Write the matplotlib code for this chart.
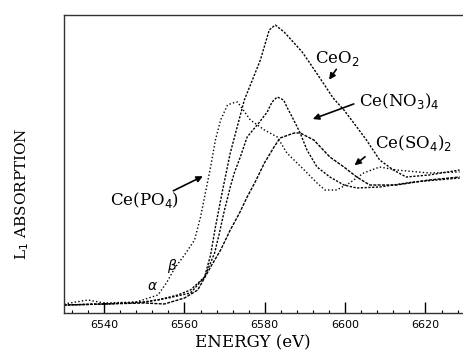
import matplotlib
matplotlib.use("Agg")
import matplotlib.pyplot as plt
from matplotlib.ticker import MultipleLocator

# ---- data (energy in eV, absorption in arbitrary units) ----
e_po4 = [6530, 6536, 6540, 6548, 6553.4, 6555.5, 6557.6, 6560.0, 6562.5, 6564.0, 6565.2,
         6566.5, 6567.7, 6569.0, 6570.7, 6572.0, 6573.2, 6576.4, 6579.9, 6583.1, 6585.5,
         6589.8, 6593.0, 6595.0, 6597.9, 6601.1, 6604.6, 6608.6, 6612.8, 6620.9, 6628.5]
a_po4 = [0.09, 0.13, 0.10, 0.11, 0.18, 0.30, 0.45, 0.58, 0.73, 0.96, 1.20,
         1.46, 1.73, 1.93, 2.08, 2.10, 2.11, 1.93, 1.83, 1.76, 1.60,
         1.43, 1.30, 1.23, 1.23, 1.30, 1.40, 1.46, 1.43, 1.40, 1.41]

e_ceo2 = [6530, 6540, 6550, 6556, 6561.5, 6565.0, 6566.5, 6567.7, 6569.5, 6571.4, 6574.9,
          6578.9, 6581.1, 6582.6, 6584.8, 6587.3, 6589.3, 6591.2, 6593.2, 6595.2, 6597.0,
          6599.7, 6602.9, 6605.3, 6608.6, 6612.0, 6615.2, 6620.9, 6628.5]
a_ceo2 = [0.08, 0.09, 0.11, 0.15, 0.20, 0.36, 0.58, 0.86, 1.23, 1.60, 2.13,
          2.53, 2.83, 2.88, 2.81, 2.70, 2.61, 2.50, 2.38, 2.26, 2.15,
          2.03, 1.86, 1.73, 1.53, 1.43, 1.36, 1.38, 1.43]

e_no3 = [6530, 6540, 6550, 6553.4, 6558.3, 6561.5, 6565.0, 6567.5, 6568.7, 6569.9, 6571.4,
         6572.4, 6573.9, 6575.6, 6578.5, 6580.6, 6581.8, 6583.1, 6584.7, 6585.5, 6587.2,
         6588.8, 6590.5, 6593.0, 6596.2, 6599.7, 6602.9, 6608.6, 6617.0, 6628.5]
a_no3 = [0.08, 0.09, 0.11, 0.13, 0.18, 0.23, 0.36, 0.60, 0.80, 1.02, 1.26,
         1.40, 1.56, 1.76, 1.90, 2.01, 2.11, 2.16, 2.13, 2.06, 1.93,
         1.80, 1.63, 1.46, 1.36, 1.28, 1.25, 1.26, 1.31, 1.35]

e_so4 = [6530, 6540, 6550, 6555, 6560.0, 6563.3, 6566.5, 6569.0, 6571.4, 6573.7, 6575.6,
         6577.6, 6579.9, 6582.3, 6583.8, 6587.3, 6588.8, 6592.2, 6596.2, 6599.7, 6602.9,
         6606.1, 6612.8, 6620.9, 6628.5]
a_so4 = [0.08, 0.09, 0.10, 0.09, 0.15, 0.23, 0.46, 0.63, 0.83, 1.00, 1.16,
         1.31, 1.50, 1.66, 1.75, 1.80, 1.80, 1.73, 1.56, 1.46, 1.36,
         1.28, 1.28, 1.33, 1.36]

xticks = [6540, 6560, 6580, 6600, 6620]

# ---- figure ----
fig = plt.figure(figsize=(4.63, 3.51), dpi=100)
ax = fig.add_axes([64 / 463, 1 - 313 / 351, (463 - 64) / 463 + 0.01, (313 - 15) / 351])

serif = "DejaVu Serif"
for e, a, ls in [(e_po4, a_po4, (0, (1, 1.6))), (e_ceo2, a_ceo2, (0, (1.6, 1.1))),
                 (e_no3, a_no3, (0, (1.6, 1.1))), (e_so4, a_so4, (0, (2.2, 0.9)))]:
    ax.plot(e, a, color="black", lw=1.0, ls=ls)

ax.set_xlim(6530, 6630.5)
ax.set_ylim(0, 2.98)
ax.set_yticks([])
ax.set_xticks(xticks)
ax.xaxis.set_minor_locator(MultipleLocator(4))
ax.tick_params(axis="x", which="major", direction="in", length=8, width=1,
               labelsize=8, pad=5, top=False)
ax.tick_params(axis="x", which="minor", direction="in", length=2.5, width=0.8, top=False)
for s in ax.spines.values():
    s.set_color("#333333")
    s.set_linewidth(1.0)
ax.spines["right"].set_visible(False)

# annotations
tk = dict(fontsize=12, family=serif, color="black")
ax.annotate("", xy=(6595.6, 2.31), xytext=(6598.2, 2.46),
            arrowprops=dict(arrowstyle="-|>", color="black", lw=1.2, mutation_scale=9))
ax.text(6592.5, 2.50, r"CeO$_2$", va="baseline", ha="left", **tk)

ax.annotate("", xy=(6591.3, 1.93), xytext=(6602.8, 2.10),
            arrowprops=dict(arrowstyle="-|>", color="black", lw=1.2, mutation_scale=9))
ax.text(6603.4, 2.12, r"Ce(NO$_3$)$_4$", va="center", ha="left", **tk)

ax.annotate("", xy=(6601.8, 1.46), xytext=(6605.5, 1.58),
            arrowprops=dict(arrowstyle="-|>", color="black", lw=1.2, mutation_scale=9))
ax.text(6607.4, 1.70, r"Ce(SO$_4$)$_2$", va="center", ha="left", **tk)

ax.annotate("", xy=(6565.2, 1.38), xytext=(6556.6, 1.21),
            arrowprops=dict(arrowstyle="-|>", color="black", lw=1.2, mutation_scale=9))
ax.text(6541.5, 1.13, r"Ce(PO$_4$)", va="center", ha="left", **tk)

ax.text(6552.1, 0.27, r"$\alpha$", fontsize=10, ha="center", va="center")
ax.text(6557.0, 0.47, r"$\beta$", fontsize=10, ha="center", va="center")

fig.text(253 / 463, 1 - 343 / 351, "ENERGY (eV)", ha="center", va="center",
         fontsize=12, family=serif)
fig.text(22 / 463, 1 - 194 / 351, r"L$_1$ ABSORPTION", ha="center", va="center",
         rotation=90, fontsize=11, family=serif)

fig.savefig("out.png", dpi=100)
